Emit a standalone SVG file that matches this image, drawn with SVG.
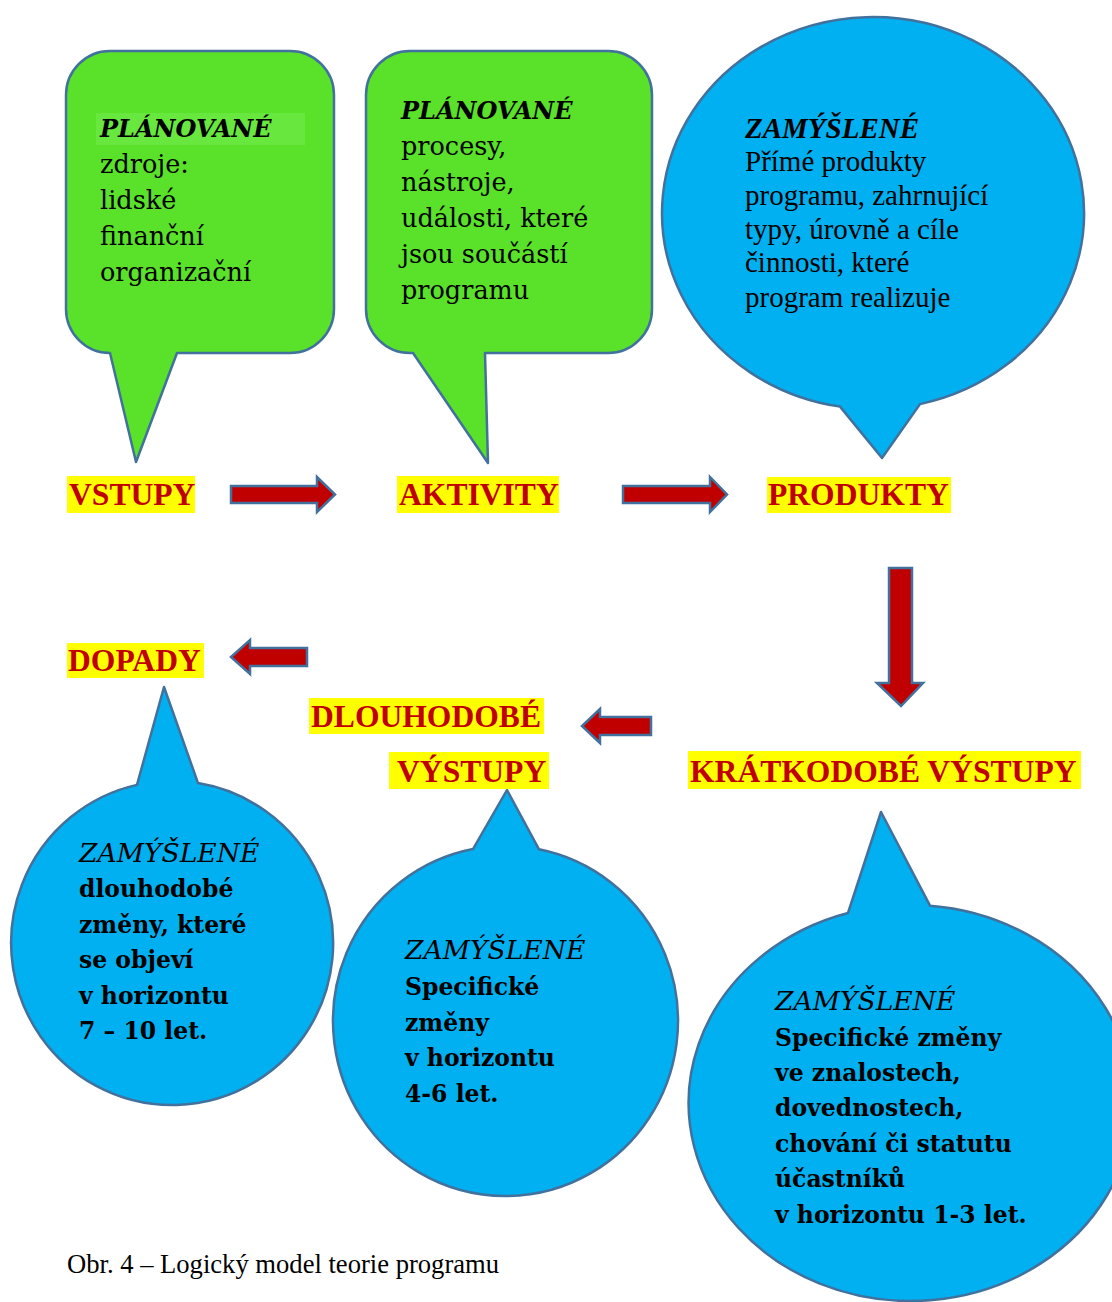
<svg xmlns="http://www.w3.org/2000/svg" width="1112" height="1302" viewBox="0 0 1112 1302">
  <style>
    .green { fill: #5AE12A; stroke: #41719C; stroke-width: 2.5; stroke-linejoin: round; }
    .blue { fill: #00B0F0; stroke: #41719C; stroke-width: 2.5; stroke-linejoin: round; }
    .arrow { fill: #C00000; stroke: #41719C; stroke-width: 2.5; stroke-linejoin: miter; }
    .hl { fill: #FFFF00; }
    .label { font-family: "Liberation Serif", "Times New Roman", serif; font-weight: bold; font-size: 31.6px; fill: #C00000; }
    .pal { font-family: "DejaVu Serif", "Liberation Serif", serif; font-size: 25.5px; fill: #000; }
    .palb { font-family: "DejaVu Serif", "Liberation Serif", serif; font-size: 23.5px; font-weight: bold; fill: #000; }
    .pali { font-family: "DejaVu Serif", "Liberation Serif", serif; font-size: 26.6px; font-style: italic; fill: #000; }
    .palbi { font-family: "DejaVu Serif", "Liberation Serif", serif; font-size: 24px; font-style: italic; font-weight: bold; fill: #000; }
    .tms { font-family: "Liberation Serif", "Times New Roman", serif; font-size: 29px; fill: #000; }
    .tmsbi { font-family: "Liberation Serif", "Times New Roman", serif; font-size: 29px; font-style: italic; font-weight: bold; fill: #000; }
    .caption { font-family: "Liberation Serif", "Times New Roman", serif; font-size: 26.6px; fill: #000; }
  </style>

  <!-- Planned inputs callout -->
  <g id="bubble-vstupy">
    <path class="green" d="M110,353 L136,462 L177,353 L290,353 A44,44 0 0 0 334,309 L334,95 A44,44 0 0 0 290,51 L110,51 A44,44 0 0 0 66,95 L66,309 A44,44 0 0 0 110,353 Z"/>
    <rect x="96" y="113" width="209" height="32" fill="#68E83E"/>
    <text class="palbi" x="100" y="137">PLÁNOVANÉ</text>
    <text class="pal" x="100" y="173">zdroje:</text>
    <text class="pal" x="100" y="209">lidské</text>
    <text class="pal" x="100" y="245">finanční</text>
    <text class="pal" x="100" y="281">organizační</text>
  </g>

  <!-- Planned activities callout -->
  <g id="bubble-aktivity">
    <path class="green" d="M413,353 L488,463 L485,353 L608,353 A44,44 0 0 0 652,309 L652,95 A44,44 0 0 0 608,51 L410,51 A44,44 0 0 0 366,95 L366,309 A44,44 0 0 0 410,353 Z"/>
    <text class="palbi" x="401" y="119">PLÁNOVANÉ</text>
    <text class="pal" x="401" y="155">procesy,</text>
    <text class="pal" x="401" y="191">nástroje,</text>
    <text class="pal" x="401" y="227">události, které</text>
    <text class="pal" x="401" y="263">jsou součástí</text>
    <text class="pal" x="401" y="299">programu</text>
  </g>

  <!-- Intended products callout -->
  <g id="bubble-produkty">
    <path class="blue" d="M920,404.1 L882,458 L840,406.6 A211,196 0 1 1 920,404.1 Z"/>
    <text class="tmsbi" x="745" y="138">ZAMÝŠLENÉ</text>
    <text class="tms" x="745" y="171">Přímé produkty</text>
    <text class="tms" x="745" y="205">programu, zahrnující</text>
    <text class="tms" x="745" y="239">typy, úrovně a cíle</text>
    <text class="tms" x="745" y="272">činnosti, které</text>
    <text class="tms" x="745" y="307">program realizuje</text>
  </g>

  <!-- Long-term impacts callout -->
  <g id="bubble-dopady">
    <path class="blue" d="M137,784.9 L164,687 L198,783.1 A161,162 0 1 1 137,784.9 Z"/>
    <text class="pali" x="79" y="862">ZAMÝŠLENÉ</text>
    <text class="palb" x="79" y="897">dlouhodobé</text>
    <text class="palb" x="79" y="933">změny, které</text>
    <text class="palb" x="79" y="968">se objeví</text>
    <text class="palb" x="79" y="1004">v horizontu</text>
    <text class="palb" x="79" y="1039">7 – 10 let.</text>
  </g>

  <!-- Long-term outputs callout -->
  <g id="bubble-dlouhodobe">
    <path class="blue" d="M473,849.1 L507,790 L539,849.3 A172.5,175 0 1 1 473,849.1 Z"/>
    <text class="pali" x="405" y="959">ZAMÝŠLENÉ</text>
    <text class="palb" x="405" y="995">Specifické</text>
    <text class="palb" x="405" y="1031">změny</text>
    <text class="palb" x="405" y="1066">v horizontu</text>
    <text class="palb" x="405" y="1102">4-6 let.</text>
  </g>

  <!-- Short-term outputs callout -->
  <g id="bubble-kratkodobe">
    <path class="blue" d="M848,913 L881,812 L930,905.7 A222,198 0 1 1 848,913 Z"/>
    <text class="pali" x="775" y="1010">ZAMÝŠLENÉ</text>
    <text class="palb" x="775" y="1046">Specifické změny</text>
    <text class="palb" x="775" y="1081">ve znalostech,</text>
    <text class="palb" x="775" y="1116">dovednostech,</text>
    <text class="palb" x="775" y="1152">chování či statutu</text>
    <text class="palb" x="775" y="1187">účastníků</text>
    <text class="palb" x="775" y="1223">v horizontu 1-3 let.</text>
  </g>

  <!-- Stage labels -->
  <g id="label-vstupy">
    <rect class="hl" x="67" y="476" width="128" height="37"/>
    <text class="label" x="69" y="505">VSTUPY</text>
  </g>
  <g id="label-aktivity">
    <rect class="hl" x="397" y="476" width="162" height="37"/>
    <text class="label" x="399" y="505">AKTIVITY</text>
  </g>
  <g id="label-produkty">
    <rect class="hl" x="767" y="477" width="184" height="36"/>
    <text class="label" x="768" y="505">PRODUKTY</text>
  </g>
  <g id="label-dopady">
    <rect class="hl" x="67" y="643" width="137" height="35"/>
    <text class="label" x="68" y="671">DOPADY</text>
  </g>
  <g id="label-dlouhodobe">
    <rect class="hl" x="309" y="698" width="235" height="36"/>
    <text class="label" x="311" y="727">DLOUHODOBÉ</text>
    <rect class="hl" x="389" y="752" width="160" height="37"/>
    <text class="label" x="397" y="782">VÝSTUPY</text>
  </g>
  <g id="label-kratkodobe">
    <rect class="hl" x="688" y="751" width="393" height="38"/>
    <text class="label" x="690" y="782">KRÁTKODOBÉ VÝSTUPY</text>
  </g>

  <!-- Block arrows between stages -->
  <g id="connectors">
    <polygon class="arrow" points="231,486 317,486 317,477 335,494.5 317,512 317,503 231,503"/>
    <polygon class="arrow" points="623,486 710,486 710,477 727,494.5 710,512 710,503 623,503"/>
    <polygon class="arrow" points="889,568 912,568 912,683 923,683 901,706 877,683 889,683"/>
    <polygon class="arrow" points="651,717 600,717 600,709 582,726 600,743 600,735 651,735"/>
    <polygon class="arrow" points="307,648 250,648 250,640 231,657 250,674 250,666 307,666"/>
  </g>

  <text class="caption" x="67" y="1273">Obr. 4 – Logický model teorie programu</text>
</svg>
